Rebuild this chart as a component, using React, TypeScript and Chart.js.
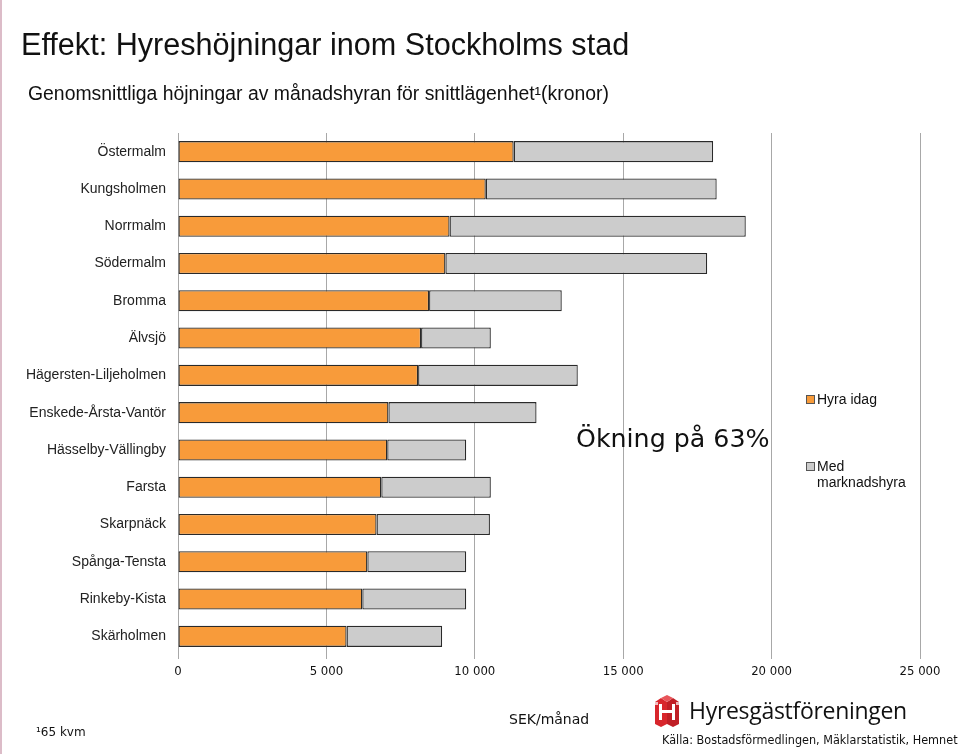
import React, { useEffect, useRef } from "react";
import { Chart, registerables } from "chart.js";

Chart.register(...registerables);

const districts = [
  "Östermalm",
  "Kungsholmen",
  "Norrmalm",
  "Södermalm",
  "Bromma",
  "Älvsjö",
  "Hägersten-Liljeholmen",
  "Enskede-Årsta-Vantör",
  "Hässelby-Vällingby",
  "Farsta",
  "Skarpnäck",
  "Spånga-Tensta",
  "Rinkeby-Kista",
  "Skärholmen",
];

// Hyra idag (kr/mån)
const hyraIdag = [11310, 10370, 9150, 9010, 8460, 8190, 8090, 7090, 7050, 6850, 6690, 6380, 6210, 5680];
// Med marknadshyra (kr/mån), total
const marknadshyra = [18030, 18150, 19130, 17830, 12930, 10540, 13470, 12080, 9710, 10540, 10510, 9710, 9710, 8900];

const xTicks = [0, 5000, 10000, 15000, 20000, 25000];

const fmt = (v: number) => String(v).replace(/\B(?=(\d{3})+(?!\d))/g, " ");

function Logo() {
  return (
    <svg width="32" height="34" viewBox="0 0 32 34" style={{ position: "absolute", left: 651, top: 694 }}>
      <polygon points="4,8 10,4 16,8 16,30 10,33 4,30" fill="#d8262c" />
      <polygon points="16,8 22,4 28,8 28,30 22,33 16,30" fill="#c01f26" />
      <polygon points="10,4 16,1 22,4 16,8" fill="#e8555a" />
      <rect x="8" y="10" width="3" height="16" fill="#fff" />
      <rect x="8" y="16" width="16" height="3" fill="#fff" />
      <rect x="21" y="10" width="3" height="16" fill="#fff" />
      <rect x="4" y="8" width="3" height="3" fill="#fff" opacity="0.7" />
      <rect x="25" y="8" width="3" height="3" fill="#fff" opacity="0.7" />
    </svg>
  );
}

export default function App() {
  const ref = useRef<HTMLCanvasElement>(null);

  useEffect(() => {
    if (!ref.current) return;
    const chart = new Chart(ref.current, {
      type: "bar",
      data: {
        labels: districts,
        datasets: [
          {
            label: "Hyra idag",
            data: hyraIdag,
            backgroundColor: "#F89B3A",
            borderColor: "#2a2a2a",
            borderWidth: 1.3,
            borderSkipped: false,
          },
          {
            label: "Med marknadshyra",
            data: marknadshyra.map((v, i) => v - hyraIdag[i]),
            backgroundColor: "#CCCCCC",
            borderColor: "#2a2a2a",
            borderWidth: 1.3,
            borderSkipped: false,
          },
        ],
      },
      options: {
        indexAxis: "y",
        responsive: false,
        animation: false,
        events: [],
        layout: { padding: { left: 0, right: 40, top: 133, bottom: 69 } },
        datasets: { bar: { categoryPercentage: 1, barPercentage: 0.565 } },
        plugins: { legend: { display: false }, tooltip: { enabled: false } },
        scales: {
          x: {
            stacked: true,
            min: 0,
            max: 25000,
            afterBuildTicks: (s: any) => {
              s.ticks = xTicks.map((v) => ({ value: v }));
            },
            afterFit: (s: any) => {
              s.height = 30;
            },
            ticks: {
              callback: (v: any) => fmt(Number(v)),
              color: "#111",
              padding: 5,
              maxRotation: 0,
              font: { family: "'DejaVu Sans Condensed', 'DejaVu Sans', sans-serif", size: 13 },
            },
            grid: { color: "#a8a8a8", lineWidth: 1, tickLength: 4 },
            border: { display: false },
          },
          y: {
            stacked: true,
            afterFit: (s: any) => {
              s.width = 178;
            },
            grid: { display: false },
            border: { display: true, color: "#a8a8a8" },
            ticks: {
              color: "#222",
              padding: 4,
              font: { family: "'Liberation Sans', Arial, sans-serif", size: 14 },
            },
          },
        },
      },
    });
    return () => chart.destroy();
  }, []);

  const arial = "'Liberation Sans', Arial, sans-serif";
  const dejavu = "'DejaVu Sans', sans-serif";

  return (
    <div
      style={{
        position: "absolute",
        left: 0,
        top: 0,
        width: 960,
        height: 754,
        background: "#fff",
        overflow: "hidden",
      }}
    >
      <div style={{ position: "absolute", left: 0, top: 0, width: 2, height: 754, background: "#dcbcc8" }} />
      <canvas ref={ref} width={960} height={754} style={{ position: "absolute", left: 0, top: 0 }} />
      <div
        style={{
          position: "absolute",
          left: 21,
          top: 27,
          fontFamily: arial,
          fontSize: 30.6,
          color: "#111",
          whiteSpace: "nowrap",
        }}
      >
        Effekt: Hyreshöjningar inom Stockholms stad
      </div>
      <div
        style={{
          position: "absolute",
          left: 28,
          top: 82,
          fontFamily: arial,
          fontSize: 19.4,
          color: "#111",
          whiteSpace: "nowrap",
        }}
      >
        Genomsnittliga höjningar av månadshyran för snittlägenhet¹(kronor)
      </div>
      <div
        style={{
          position: "absolute",
          left: 576,
          top: 424,
          fontFamily: dejavu,
          fontSize: 25.3,
          color: "#111",
          whiteSpace: "nowrap",
        }}
      >
        Ökning på 63%
      </div>
      {/* legend */}
      <div
        style={{
          position: "absolute",
          left: 806,
          top: 395,
          width: 7,
          height: 7,
          background: "#F89B3A",
          border: "1px solid #555",
        }}
      />
      <div
        style={{ position: "absolute", left: 817, top: 391, fontFamily: arial, fontSize: 14, color: "#111", whiteSpace: "nowrap" }}
      >
        Hyra idag
      </div>
      <div
        style={{
          position: "absolute",
          left: 806,
          top: 462,
          width: 7,
          height: 7,
          background: "#CCCCCC",
          border: "1px solid #555",
        }}
      />
      <div
        style={{
          position: "absolute",
          left: 817,
          top: 458,
          fontFamily: arial,
          fontSize: 14,
          lineHeight: "16px",
          color: "#111",
          whiteSpace: "nowrap",
        }}
      >
        Med
        <br />
        marknadshyra
      </div>
      {/* footer */}
      <div
        style={{ position: "absolute", left: 36, top: 725, fontFamily: dejavu, fontSize: 12, color: "#111", whiteSpace: "nowrap" }}
      >
        ¹65 kvm
      </div>
      <div
        style={{ position: "absolute", left: 509, top: 711, fontFamily: dejavu, fontSize: 14, color: "#111", whiteSpace: "nowrap" }}
      >
        SEK/månad
      </div>
      <Logo />
      <div
        style={{
          position: "absolute",
          left: 689,
          top: 694,
          fontFamily: "'Open Sans', 'Noto Sans', sans-serif",
          fontSize: 23,
          color: "#111",
          whiteSpace: "nowrap",
          letterSpacing: -0.3,
        }}
      >
        Hyresgästföreningen
      </div>
      <div
        style={{
          position: "absolute",
          left: 662,
          top: 732,
          fontFamily: "'DejaVu Sans Condensed', 'DejaVu Sans', sans-serif",
          fontSize: 12.5,
          color: "#111",
          whiteSpace: "nowrap",
        }}
      >
        Källa: Bostadsförmedlingen, Mäklarstatistik, Hemnet
      </div>
    </div>
  );
}
